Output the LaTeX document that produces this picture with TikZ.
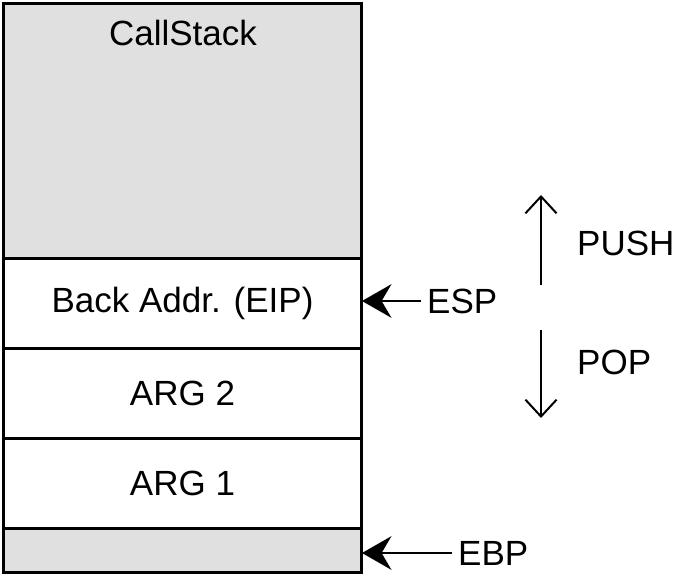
\documentclass[tikz,border=0pt]{standalone}
\usepackage{fontspec}
\setmainfont{Liberation Sans}
\usetikzlibrary{arrows.meta}
\definecolor{cellgray}{HTML}{E0E0E0}
\begin{document}
\begin{tikzpicture}[x=1pt,y=-1pt,
  cell/.style={draw=black,line width=3pt,minimum width=358pt,inner sep=0pt,anchor=north west,font=\fontsize{35}{40}\selectfont},
  lbl/.style={font=\fontsize{35}{40}\selectfont,inner sep=0pt},
  ptr/.style={line width=2pt,-{Stealth[length=21pt,width=24pt,inset=7pt,scale=1.4]}},
  dir/.style={line width=2pt,-{Straight Barb[length=13pt,width=24pt,line width=2pt,scale=1.3]}}]
\useasboundingbox (0,0) rectangle (693,585);
\node[cell,fill=cellgray,minimum height=255pt] (top) at (2,2) {};
\node[lbl,anchor=center] (title) at (183,33) {CallStack};
\node[cell,fill=white,minimum height=90pt] (ret) at (2,257) {Back Addr. (EIP)};
\node[cell,fill=white,minimum height=90pt] (arg2) at (2,347) {ARG 2};
\node[cell,fill=white,minimum height=90pt] (arg1) at (2,437) {ARG 1};
\node[cell,fill=cellgray,minimum height=44pt] (base) at (2,527) {};
\node[lbl,anchor=west] (esp) at (427,301) {ESP};
\node[lbl,anchor=west] (ebp) at (458,553) {EBP};
\coordinate (espend) at (362,301);
\coordinate (ebpend) at (362,553);
\coordinate (esps) at (421,301);
\coordinate (ebps) at (452,553);
\draw[ptr] (esps) -- (espend);
\draw[ptr] (ebps) -- (ebpend);
\coordinate (pushs) at (541,285);
\coordinate (pushe) at (541,195);
\coordinate (pops) at (541,330);
\coordinate (pope) at (541,418);
\draw[dir] (pushs) -- (pushe);
\draw[dir] (pops) -- (pope);
\node[lbl,anchor=west] (push) at (577,243) {PUSH};
\node[lbl,anchor=west] (pop) at (577,362) {POP};
\end{tikzpicture}
\end{document}
